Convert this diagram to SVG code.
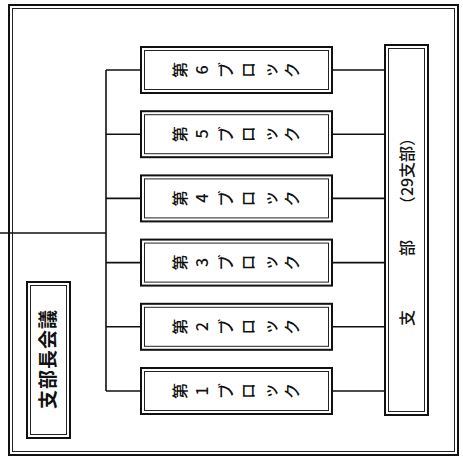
<svg xmlns="http://www.w3.org/2000/svg" width="463" height="460" viewBox="0 0 463 460">
<style>
.o{fill:none;stroke:#111;stroke-width:2}
.i{fill:none;stroke:#222;stroke-width:1}
.ln{fill:none;stroke:#111;stroke-width:1.6}
.t{font-family:"Noto Sans CJK JP","Noto Sans",sans-serif;font-size:16px;fill:#111;font-weight:500}
.b{font-family:"Noto Sans CJK JP","Noto Sans",sans-serif;font-size:19px;fill:#111;font-weight:700}
</style>
<rect width="463" height="460" fill="#fff"/>
<g id="frame">
<rect class="o" x="9" y="5" width="449" height="450"/>
<rect class="i" x="12.5" y="8.5" width="442" height="443"/>
</g>
<g id="connectors">
<path class="ln" d="M0 233H106M106 70V391"/>
<path class="ln" d="M106 70H141M106 134.2H141M106 198.4H141M106 262.6H141M106 326.8H141M106 391H141"/>
<path class="ln" d="M332 70H385M332 134.2H385M332 198.4H385M332 262.6H385M332 326.8H385M332 391H385"/>
</g>
<g id="kaigi">
<rect class="o" x="27" y="282" width="43" height="156"/>
<rect class="i" x="30.5" y="285.5" width="36" height="149"/>
<text class="b" transform="translate(55,359) rotate(-90)" text-anchor="middle" letter-spacing="1">支部長会議</text>
</g>
<g id="block6">
<rect class="o" x="141" y="47" width="191" height="46"/>
<rect class="i" x="144.5" y="50.5" width="184" height="39"/>
<text class="t" rotate="-90" x="186 208 232 254 276 298" y="78 74.4 78 78 78 78">第6ブロック</text>
</g>
<g id="block5">
<rect class="o" x="141" y="111.2" width="191" height="46"/>
<rect class="i" x="144.5" y="114.7" width="184" height="39"/>
<text class="t" rotate="-90" x="186 208 232 254 276 298" y="142.2 138.6 142.2 142.2 142.2 142.2">第5ブロック</text>
</g>
<g id="block4">
<rect class="o" x="141" y="175.4" width="191" height="46"/>
<rect class="i" x="144.5" y="178.9" width="184" height="39"/>
<text class="t" rotate="-90" x="186 208 232 254 276 298" y="206.4 202.8 206.4 206.4 206.4 206.4">第4ブロック</text>
</g>
<g id="block3">
<rect class="o" x="141" y="239.6" width="191" height="46"/>
<rect class="i" x="144.5" y="243.1" width="184" height="39"/>
<text class="t" rotate="-90" x="186 208 232 254 276 298" y="270.6 267 270.6 270.6 270.6 270.6">第3ブロック</text>
</g>
<g id="block2">
<rect class="o" x="141" y="303.8" width="191" height="46"/>
<rect class="i" x="144.5" y="307.3" width="184" height="39"/>
<text class="t" rotate="-90" x="186 208 232 254 276 298" y="334.8 331.2 334.8 334.8 334.8 334.8">第2ブロック</text>
</g>
<g id="block1">
<rect class="o" x="141" y="368" width="191" height="46"/>
<rect class="i" x="144.5" y="371.5" width="184" height="39"/>
<text class="t" rotate="-90" x="186 208 232 254 276 298" y="399 395.4 399 399 399 399">第1ブロック</text>
</g>
<g id="shibu">
<rect class="o" x="385" y="45" width="43" height="370"/>
<rect class="i" x="388.5" y="48.5" width="36" height="363"/>
<text class="t" transform="rotate(-90)" text-anchor="middle"><tspan x="-318" y="413">支</tspan><tspan x="-248" y="413">部</tspan><tspan x="-171" y="413">（29支部）</tspan></text>
</g>
</svg>
